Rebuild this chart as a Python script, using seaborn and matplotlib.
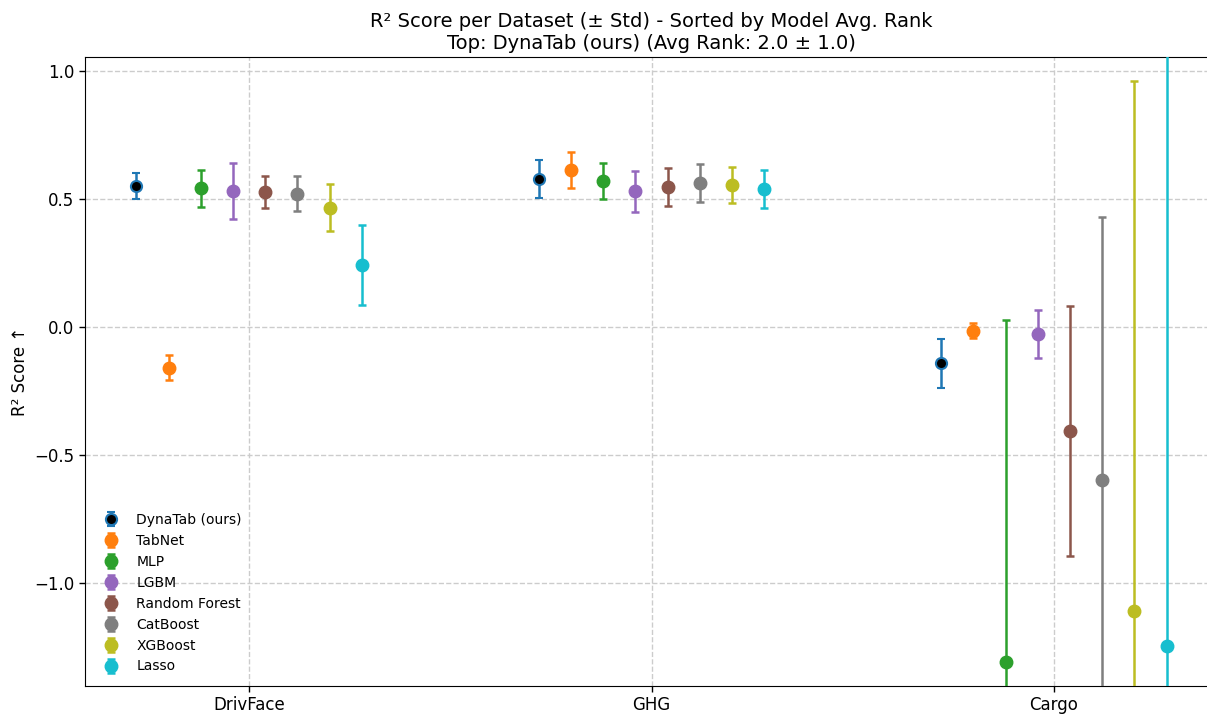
import numpy as np
import pandas as pd
import seaborn as sns
import matplotlib
matplotlib.use("Agg")
import matplotlib.pyplot as plt

# Data
datasets = ["DrivFace", "GHG", "Cargo"]
models = ["DynaTab (ours)", "TabNet", "MLP", "LGBM", "Random Forest",
          "CatBoost", "XGBoost", "Lasso"]

# mean R² per model, one entry per dataset (DrivFace, GHG, Cargo)
mean_dynatab = [0.551, 0.578, -0.141]
mean_tabnet = [-0.158, 0.613, -0.014]
mean_mlp = [0.542, 0.570, -1.307]
mean_lgbm = [0.532, 0.531, -0.026]
mean_rf = [0.527, 0.547, -0.406]
mean_catboost = [0.521, 0.562, -0.598]
mean_xgboost = [0.467, 0.555, -1.109]
mean_lasso = [0.242, 0.539, -1.245]

std_dynatab = [0.050, 0.074, 0.096]
std_tabnet = [0.049, 0.070, 0.029]
std_mlp = [0.073, 0.070, 1.333]
std_lgbm = [0.110, 0.080, 0.093]
std_rf = [0.062, 0.074, 0.489]
std_catboost = [0.068, 0.074, 1.028]
std_xgboost = [0.091, 0.070, 2.071]
std_lasso = [0.155, 0.074, 2.550]

means = [mean_dynatab, mean_tabnet, mean_mlp, mean_lgbm, mean_rf,
         mean_catboost, mean_xgboost, mean_lasso]
stds = [std_dynatab, std_tabnet, std_mlp, std_lgbm, std_rf,
        std_catboost, std_xgboost, std_lasso]

rows = []
for m, mu, sd in zip(models, means, stds):
    for d, v, s in zip(datasets, mu, sd):
        rows.append({"model": m, "dataset": d, "r2": v, "std": s})
df = pd.DataFrame(rows)


def main():
    sns.set_style("white", rc={"text.color": "black", "axes.labelcolor": "black",
                               "xtick.color": "black", "ytick.color": "black",
                               "axes.edgecolor": "black"})
    plt.rcParams["font.family"] = ["DejaVu Sans"]
    tab10 = sns.color_palette("tab10", 10)
    # red and pink are not used in the reference
    palette = [tab10[i] for i in (0, 1, 2, 4, 5, 7, 8, 9)]

    fig = plt.figure(figsize=(12.07, 7.15), dpi=100)
    ax = fig.add_axes([85 / 1207, 29 / 715, 1133 / 1207, 629 / 715])

    x_base = np.arange(len(datasets))
    width = 0.08
    for i, m in enumerate(models):
        sub = df[df["model"] == m]
        xs = x_base + (i - (len(models) - 1) / 2) * width
        if i == 0:
            ax.errorbar(xs, sub["r2"], yerr=sub["std"], fmt="o", color=palette[i],
                        markerfacecolor="black", markeredgecolor=palette[i],
                        markeredgewidth=1.5, markersize=8, capsize=3,
                        elinewidth=1.8, capthick=1.8, label=m, zorder=3)
        else:
            ax.errorbar(xs, sub["r2"], yerr=sub["std"], fmt="o", color=palette[i],
                        markersize=9, capsize=3, elinewidth=1.8, capthick=1.8,
                        label=m, zorder=3)

    ax.set_xticks(x_base)
    ax.set_xticklabels(datasets, fontsize=12)
    ax.tick_params(axis="y", labelsize=12)
    ax.tick_params(axis="both", direction="out", length=4, width=1, left=True, bottom=True)
    ax.set_xlim(-0.408, 2.408)
    ax.set_ylim(-1.402, 1.055)
    ax.set_yticks([-1.0, -0.5, 0.0, 0.5, 1.0])
    ax.set_ylabel("R² Score ↑", fontsize=12)
    ax.set_title("R² Score per Dataset (± Std) - Sorted by Model Avg. Rank\n"
                 "Top: DynaTab (ours) (Avg Rank: 2.0 ± 1.0)", fontsize=14)
    ax.grid(True, linestyle="--", color="#cccccc", linewidth=1)
    ax.set_axisbelow(True)
    ax.legend(loc="lower left", frameon=False, fontsize=10)

    fig.savefig("out.png", dpi=100)


if __name__ == "__main__":
    main()
